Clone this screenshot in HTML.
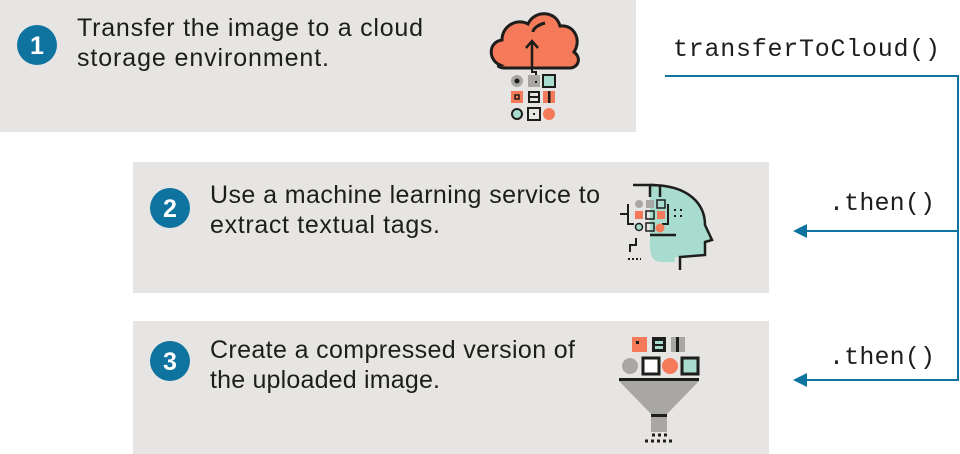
<!DOCTYPE html>
<html><head><meta charset="utf-8"><style>
html,body{margin:0;padding:0;background:#fff;}
svg{display:block}
text{font-family:"Liberation Sans",sans-serif;}
.t{font-size:25px;fill:#1d1d1b}
.m{font-family:"Liberation Mono",monospace;font-size:25px;fill:#1d1d1b}
.n{font-size:25px;font-weight:bold;fill:#fff}
</style></head><body>
<svg width="960" height="454" viewBox="0 0 960 454" xmlns="http://www.w3.org/2000/svg">
<rect x="0" y="0" width="636" height="132" fill="#e6e5e3"/>
<rect x="133" y="162" width="636" height="131" fill="#e6e5e3"/>
<rect x="133" y="321" width="636" height="133" fill="#e6e5e3"/>

<circle cx="37" cy="45" r="20" fill="#0f73a0"/>
<text class="n" x="37" y="54" text-anchor="middle">1</text>
<text class="t" x="77" y="36" textLength="346">Transfer the image to a cloud</text>
<text class="t" x="77" y="66" textLength="252">storage environment.</text>

<circle cx="170" cy="208" r="20" fill="#0f73a0"/>
<text class="n" x="170" y="217" text-anchor="middle">2</text>
<text class="t" x="210" y="203" textLength="390">Use a machine learning service to</text>
<text class="t" x="210" y="233" textLength="230">extract textual tags.</text>

<circle cx="170" cy="361" r="20" fill="#0f73a0"/>
<text class="n" x="170" y="370" text-anchor="middle">3</text>
<text class="t" x="210" y="358" textLength="365">Create a compressed version of</text>
<text class="t" x="210" y="388" textLength="230">the uploaded image.</text>

<text class="m" x="673" y="56" textLength="267">transferToCloud()</text>
<text class="m" x="829" y="210" textLength="106">.then()</text>
<text class="m" x="829" y="364" textLength="106">.then()</text>

<polyline points="665,76 958,76 958,380 805,380" fill="none" stroke="#0f73a0" stroke-width="2"/>
<line x1="958" y1="231" x2="805" y2="231" stroke="#0f73a0" stroke-width="2"/>
<polygon points="793,231 807,224 807,238" fill="#0f73a0"/>
<polygon points="793,380 807,373 807,387" fill="#0f73a0"/>

<!-- cloud icon -->
<g stroke="#1d1d1b" stroke-width="3">
<path d="M500,65 C488,60 488,42 502,40 C502,25 518,18 528,24 C534,10 556,10 560,26 C574,24 582,40 574,52 C582,58 578,68 570,68 L506,68 C500,68 496,66 500,65 Z" fill="#f47a5a"/>
</g>
<path d="M533,32 C533,28 540,24 545,23" stroke="#1d1d1b" stroke-width="3" fill="none"/>
<line x1="532" y1="68" x2="532" y2="42" stroke="#1d1d1b" stroke-width="2.5"/>
<polyline points="526,48 532,41 538,48" fill="none" stroke="#1d1d1b" stroke-width="2.5"/>
<polyline points="532,68 532,72 536,72 536,77" fill="none" stroke="#1d1d1b" stroke-width="2"/>
<circle cx="517" cy="81" r="6" fill="#a8a7a5"/><circle cx="517" cy="81" r="2.5" fill="#1d1d1b"/>
<rect x="528" y="75" width="12" height="12" fill="#a8a7a5"/><rect x="535" y="81" width="2" height="2" fill="#1d1d1b"/>
<rect x="543" y="75" width="12" height="12" fill="#a8dccf" stroke="#1d1d1b" stroke-width="2"/>
<rect x="511" y="91" width="12" height="12" fill="#f47a5a"/><rect x="515" y="95" width="4" height="4" fill="none" stroke="#1d1d1b" stroke-width="1.5"/>
<rect x="528" y="91" width="12" height="12" fill="#1d1d1b"/><rect x="530" y="93" width="8" height="3" fill="#e6e5e3"/><rect x="530" y="98" width="8" height="3" fill="#e6e5e3"/>
<rect x="543" y="91" width="12" height="12" fill="#f47a5a"/><rect x="548" y="91" width="2.5" height="12" fill="#1d1d1b"/>
<circle cx="517" cy="114" r="5" fill="#a8dccf" stroke="#1d1d1b" stroke-width="2"/>
<rect x="528" y="108" width="12" height="12" fill="none" stroke="#1d1d1b" stroke-width="2"/><rect x="533" y="113" width="2" height="2" fill="#1d1d1b"/>
<circle cx="549" cy="114" r="6" fill="#f47a5a"/>

<!-- head icon -->
<path d="M662,186 C690,186 705,205 705,225 L712,240 L705,242 L705,255 L680,257 L675,257 L675,262 L662,262 C652,262 650,255 650,245 L650,186 Z" fill="#a8dccf"/>
<path d="M650,185 C690,185 705,205 705,225 L712,240 L705,242 L705,255 L680,257 L680,270" fill="none" stroke="#1d1d1b" stroke-width="2.5"/>
<path d="M633,185 L655,185 M650,185 L650,197 M660,185 L660,197 M650,235 L676,235" fill="none" stroke="#1d1d1b" stroke-width="2.5"/>
<path d="M628,204 L628,214 L620,214 M628,214 L628,224 L634,224 M668,204 L668,224 L662,224" fill="none" stroke="#1d1d1b" stroke-width="2"/>
<circle cx="639" cy="204" r="4" fill="#a8a7a5"/>
<rect x="646" y="200" width="8" height="8" fill="#a8a7a5"/>
<rect x="657" y="200" width="8" height="8" fill="none" stroke="#1d1d1b" stroke-width="1.5"/>
<rect x="635" y="211" width="8" height="8" fill="#f47a5a"/>
<rect x="646" y="211" width="8" height="8" fill="none" stroke="#1d1d1b" stroke-width="1.5"/>
<rect x="657" y="211" width="8" height="8" fill="#f47a5a"/>
<circle cx="639" cy="227" r="3.5" fill="#a8dccf" stroke="#1d1d1b" stroke-width="1.5"/>
<rect x="646" y="223" width="8" height="8" fill="none" stroke="#1d1d1b" stroke-width="1.5"/>
<circle cx="660" cy="228" r="4.5" fill="#f47a5a"/>
<path d="M636,238 L636,245 L630,245 L630,252" fill="none" stroke="#1d1d1b" stroke-width="2"/>
<path d="M628,259 L641,259 M674,210 L676,210 M680,210 L682,210 M674,216 L676,216 M680,216 L682,216" stroke="#1d1d1b" stroke-width="2" stroke-dasharray="2,2"/>

<!-- funnel icon -->
<rect x="632" y="337" width="15" height="15" fill="#f47a5a"/><rect x="636" y="341" width="3" height="3" fill="#1d1d1b"/>
<rect x="652" y="337" width="14" height="15" fill="#1d1d1b"/><rect x="655" y="341" width="8" height="3" fill="#a8dccf"/><rect x="655" y="346" width="8" height="3" fill="#a8dccf"/>
<rect x="671" y="337" width="14" height="15" fill="#a8a7a5"/><rect x="676" y="337" width="3" height="15" fill="#1d1d1b"/>
<circle cx="630" cy="366" r="8" fill="#a8a7a5"/>
<rect x="643" y="358" width="16" height="16" fill="#fff" stroke="#1d1d1b" stroke-width="3"/>
<circle cx="670" cy="366" r="8" fill="#f47a5a"/>
<rect x="682" y="358" width="16" height="16" fill="#a8dccf" stroke="#1d1d1b" stroke-width="3"/>
<rect x="619" y="378" width="80" height="3" fill="#1d1d1b"/>
<polygon points="619,381 699,381 667,414 651,414" fill="#a8a7a5"/>
<rect x="651" y="414" width="16" height="18" fill="#a8a7a5"/>
<rect x="651" y="414" width="16" height="3" fill="#1d1d1b"/>
<path d="M652,435 L668,435 M645,441 L675,441" stroke="#1d1d1b" stroke-width="3" stroke-dasharray="3,3"/>
</svg>
</body></html>
